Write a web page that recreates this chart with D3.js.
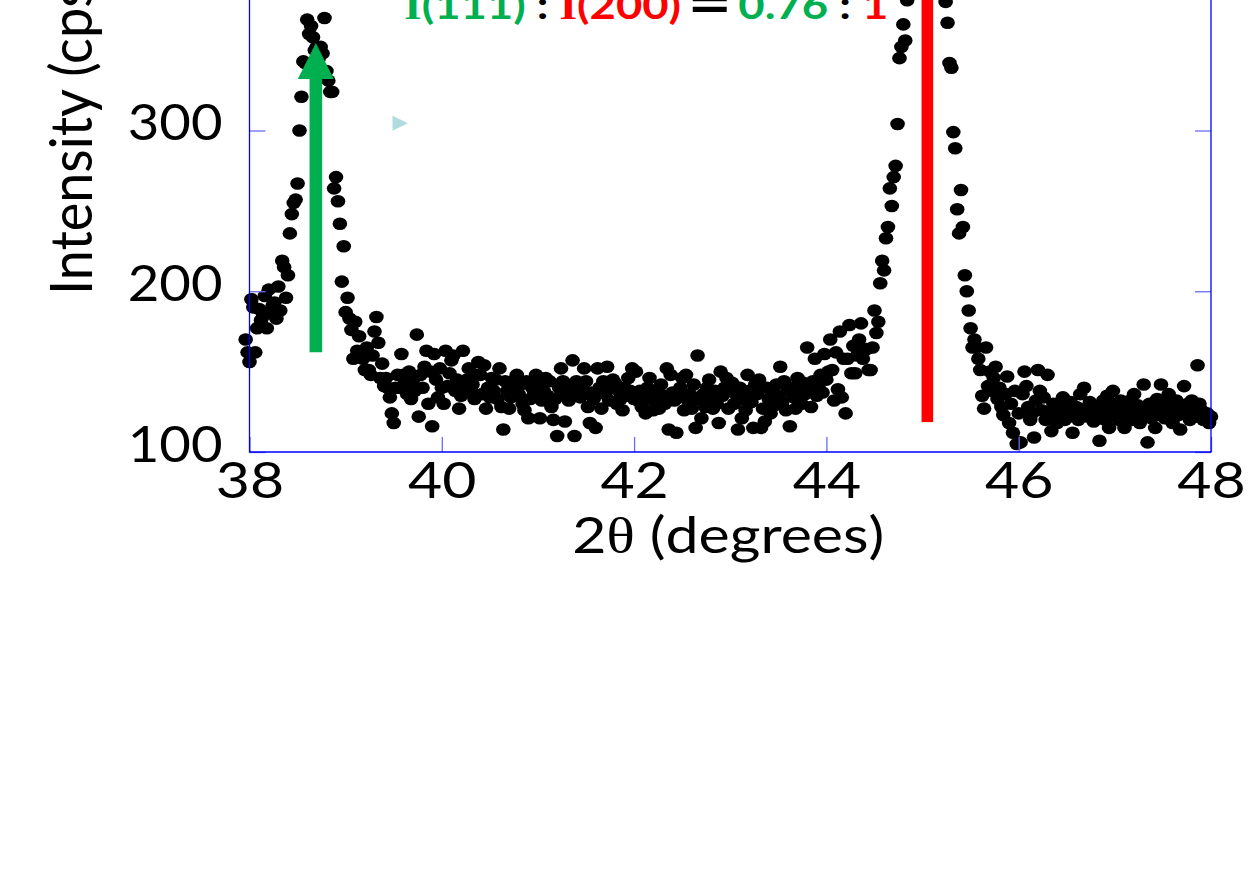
<!DOCTYPE html>
<html>
<head>
<meta charset="utf-8">
<script src="https://cdn.jsdelivr.net/npm/d3@7"></script>
<style>
  body { margin: 0; background: #fff; }
  svg { display: block; }
</style>
</head>
<body>
<svg id="chart" width="1249" height="888"></svg>
<script>
// XRD scan, 2theta step 0.02 deg, intensity in cps
const scanStep = 0.02;
const scanStarts = [37.96, 40.12, 42.02, 44.06, 46.02];

const scanA = [
  170,162,156,195,190,162,177,189,182,186,
  197,177,201,186,191,193,183,203,188,219,
  215,196,210,236,248,255,257,267,300,321,
  343,342,369,360,365,358,350,352,345,352,
  348,370,337,331,324,324,264,271,256,242,
  206,228,187,196,183,176,158,181,163,172,
  160,158,151,165,151,148,160,175,184,168,
  146,155,141,146,140,134,124,118,140,148,
  140,161,148,143,136,150,133,145,138,173,
  122,148,140,153,163,130,150,116,161,145,
  134,152,140,130,163,141,149,157
];
const scanB = [
  160,138,145,127,135,163,140,145,152,138,
  142,133,148,156,148,136,154,127,140,134,
  146,138,145,133,152,128,114,144,138,127,
  134,140,145,148,136,142,130,126,144,121,
  133,140,136,148,142,121,132,138,146,135,
  144,128,120,133,110,140,152,144,119,136,
  132,140,157,110,144,138,134,141,152,144,
  128,118,137,133,115,152,140,127,144,136,
  153,132,140,145,143,130,138,133,126,140,
  135,146,138,152,133
];
const scanC = [
  150,132,138,128,135,124,140,146,133,126,
  138,134,127,142,135,130,152,114,148,137,
  132,112,136,140,146,126,148,132,136,127,
  142,115,160,133,121,136,128,140,145,132,
  127,138,130,118,150,135,140,146,127,138,
  143,130,136,114,140,121,133,126,148,138,
  131,115,142,136,145,115,127,119,140,133,
  124,138,129,142,135,153,131,144,126,138,
  116,140,134,127,146,139,130,143,136,165,
  141,128,144,158,135,140,148,137,161,145,
  150,170
];
const scanD = [
  151,132,162,139,175,134,158,124,158,179,
  149,166,149,160,170,180,158,164,164,151,
  151,165,188,174,181,205,219,213,233,240,
  264,253,271,278,304,345,352,366,356,381,
  395,410,425,440,452,463,472,478,482,480,
  475,466,454,440,426,412,400,392,386,380,
  367,342,339,299,289,251,236,263,240,210,
  200,188,177,165,170,165,158,151,135,127,
  165,141,150,138,146,153,133,140,128,123,
  136,147,118,130,112,138,105,124
];
const scanE = [
  106,136,150,141,128,120,124,109,132,151,
  138,126,134,120,148,122,113,130,126,118,
  128,125,134,120,127,122,131,112,124,128,
  120,136,126,140,127,122,131,125,119,128,
  123,107,125,132,120,135,115,128,138,124,
  130,120,132,126,115,122,127,132,120,136,
  124,129,118,124,142,126,106,130,121,127,
  115,133,124,142,128,121,130,136,124,118,
  127,132,123,114,128,141,126,130,120,132,
  127,122,154,130,126,120,121,124,118,122
];

const xTicks = [38, 40, 42, 44, 46, 48];
const yTicks = [100, 200, 300];

// annotations, in data units
const arrow111 = { t: 38.69, from: 162, to: 354.5 };   // green arrow at the (111) peak
const line200 = { t: 45.05, bottom: 118.6 };            // red bar at the (200) peak
const marker = { t: 39.565, c: 304.5 };                 // small cyan triangle
const titleParts = [
  { text: "I", color: "#00b050", family: "serif" },
  { text: "(111)", color: "#00b050" },
  { text: " : ", color: "#000" },
  { text: "I", color: "#ff0000", family: "serif" },
  { text: "(200)", color: "#ff0000" },
  { text: "=", color: "#000", family: "wide", dx: 5 },
  { text: "0.76", color: "#00b050", dx: 5 },
  { text: " : ", color: "#000" },
  { text: "1", color: "#ff0000" }
];

const STRETCH = 1.18;      // picture is wider than tall, text and dots are stretched
const axisBlue = "#0000ff";
const tickBlue = "#6b6bf2";
const font = "Lato, 'Open Sans', sans-serif";

const svg = d3.select("#chart");

const x = d3.scaleLinear().domain([38, 48]).range([249.5, 1211]);
const y = d3.scaleLinear().domain([100, 300]).range([452, 130.5]);
const yMax = 520; // top of the frame lies above the picture

// data points
const points = [];
[scanA, scanB, scanC, scanD, scanE].forEach((arr, k) => {
  arr.forEach((c, i) => points.push({ t: scanStarts[k] + i * scanStep, c: c }));
});

svg.append("g")
  .attr("class", "points")
  .selectAll("ellipse")
  .data(points)
  .enter().append("ellipse")
  .attr("cx", d => x(d.t))
  .attr("cy", d => y(d.c))
  .attr("rx", 7.3)
  .attr("ry", 6.3)
  .attr("fill", "#000");

// axes, ticks pointing inwards
const xAxis = d3.axisBottom(x).tickValues(xTicks).tickSizeInner(-15).tickSizeOuter(0).tickFormat(d3.format("d"));
const gx = svg.append("g")
  .attr("transform", `translate(0,${y(100)})`)
  .call(xAxis)
  .attr("font-family", font)
  .attr("font-size", 50);
gx.select(".domain").remove();
gx.selectAll(".tick line").attr("stroke", tickBlue).attr("stroke-width", 1.3);
gx.selectAll(".tick text")
  .attr("y", 0).attr("dy", 0)
  .attr("fill", "#000")
  .attr("transform", `translate(0,46) scale(${STRETCH},1)`);

const yAxis = d3.axisLeft(y).tickValues(yTicks).tickSizeInner(-16).tickSizeOuter(0);
const gy = svg.append("g")
  .attr("transform", `translate(${x(38)},0)`)
  .call(yAxis)
  .attr("font-family", font)
  .attr("font-size", 50);
gy.select(".domain").remove();
gy.selectAll(".tick line").attr("stroke", tickBlue).attr("stroke-width", 1.3);
gy.selectAll(".tick text")
  .attr("x", 0).attr("dy", 0)
  .attr("fill", "#000")
  .attr("transform", `translate(-27,9) scale(1.09,1)`);

const gyR = svg.append("g")
  .attr("transform", `translate(${x(48)},0)`)
  .call(d3.axisRight(y).tickValues(yTicks).tickSizeInner(-16).tickSizeOuter(0).tickFormat(""));
gyR.select(".domain").remove();
gyR.selectAll(".tick line").attr("stroke", tickBlue).attr("stroke-width", 1.3);

// frame
svg.append("path")
  .attr("d", `M${x(38)},${y(yMax)} V${y(100)} H${x(48)} V${y(yMax)}`)
  .attr("fill", "none")
  .attr("stroke", axisBlue)
  .attr("stroke-width", 1.3);

// axis titles
const xt = svg.append("text")
  .attr("transform", `translate(${(x(38) + x(48)) / 2 - 2},553) scale(${STRETCH},1)`)
  .attr("text-anchor", "middle")
  .attr("font-family", font)
  .attr("font-size", 50)
  .attr("fill", "#000");
xt.append("tspan").text("2");
xt.append("tspan").attr("font-family", "'Liberation Serif', serif").text("\u03b8");
xt.append("tspan").text(" (degrees)");

svg.append("text")
  .attr("transform", `translate(92,295) rotate(-90) scale(1,1.09)`)
  .attr("text-anchor", "start")
  .attr("font-family", font)
  .attr("font-size", 54)
  .attr("fill", "#000")
  .text("Intensity (cps)");

// red bar at (200)
svg.append("rect")
  .attr("x", x(line200.t) - 5.8)
  .attr("width", 11.6)
  .attr("y", y(yMax))
  .attr("height", y(line200.bottom) - y(yMax))
  .attr("fill", "#ff0000");

// green arrow at (111)
const ax = x(arrow111.t), ay0 = y(arrow111.from), ay1 = y(arrow111.to);
const shaft = 6.3, head = 18, headLen = 36;
svg.append("path")
  .attr("d", `M${ax - shaft},${ay0} V${ay1 + headLen} H${ax - head} L${ax},${ay1} L${ax + head},${ay1 + headLen} H${ax + shaft} V${ay0} Z`)
  .attr("fill", "#00b050");

// small cyan triangle
const mx = x(marker.t), my = y(marker.c);
svg.append("path")
  .attr("d", `M${mx - 7.5},${my - 7.5} L${mx + 8},${my} L${mx - 7.5},${my + 7.5} Z`)
  .attr("fill", "#b0dce0");

// ratio label, top of it is cut off by the picture edge
const title = svg.append("text")
  .attr("transform", `translate(404,18.5) scale(${STRETCH},1)`)
  .attr("font-family", font)
  .attr("font-weight", "bold")
  .attr("font-size", 38.5)
  .attr("xml:space", "preserve")
  .style("white-space", "pre");
titleParts.forEach(p => {
  const ts = title.append("tspan").attr("fill", p.color).text(p.text);
  if (p.dx) ts.attr("dx", p.dx);
  if (p.family === "serif") ts.attr("font-family", "'Liberation Serif', serif");
  if (p.family === "wide") ts.attr("font-family", "'DejaVu Sans', sans-serif").attr("font-size", 46);
});
</script>
</body>
</html>
